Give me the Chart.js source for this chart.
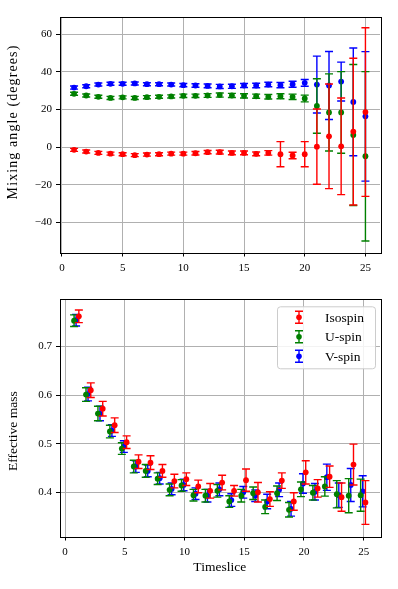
<!DOCTYPE html>
<html>
<head>
<meta charset="utf-8">
<script src="https://cdn.jsdelivr.net/npm/chart.js@4.4.0/dist/chart.umd.min.js"></script>
<style>
  body { margin: 0; background: #fff; }
  #wrap { position: relative; width: 398px; height: 589px; }
  #graficoAngulo { position: absolute; left: 0; top: 0; }
  #graficoMassa { position: absolute; left: 0; top: 280px; }
</style>
</head>
<body>
<div id="wrap">
  <canvas id="graficoAngulo" width="398" height="280"></canvas>
  <canvas id="graficoMassa" width="398" height="309"></canvas>
</div>
<script>
// DADOS
const timeslices = [1, 2, 3, 4, 5, 6, 7, 8, 9, 10, 11, 12, 13, 14, 15, 16, 17, 18, 19, 20, 21, 22, 23, 24, 25];

const anguloIsospin = [-1.4, -2.3, -3.0, -3.4, -3.7, -4.2, -3.9, -3.7, -3.4, -3.4, -3.2, -2.6, -2.6, -3.0, -3.0, -3.5, -3.0, -3.7, -4.4, -3.7, 0.3, 5.8, 0.5, 8.3, 18.7];
const erroAnguloIsospin = [0.8, 0.8, 0.8, 0.8, 0.8, 0.8, 0.8, 0.8, 0.8, 0.8, 0.9, 0.9, 1.0, 1.0, 1.0, 1.0, 1.2, 6.7, 1.7, 6.7, 20.0, 27.8, 25.7, 39.0, 44.8];
const anguloUspin = [28.4, 27.5, 26.8, 26.2, 26.5, 26.2, 26.6, 26.8, 27.0, 27.3, 27.3, 27.5, 27.7, 27.5, 27.3, 27.1, 26.8, 27.1, 26.8, 25.9, 21.9, 18.5, 18.5, 6.5, -4.8];
const erroAnguloUspin = [0.8, 0.8, 0.8, 0.8, 0.8, 0.8, 0.8, 0.8, 0.8, 0.9, 0.9, 1.0, 1.1, 1.1, 1.1, 1.1, 1.2, 1.3, 1.4, 1.8, 14.5, 20.5, 21.7, 37.5, 45.0];
const anguloVspin = [31.7, 32.4, 33.3, 33.7, 33.7, 33.9, 33.5, 33.5, 33.3, 33.0, 32.8, 32.6, 32.3, 32.4, 32.8, 32.8, 33.3, 33.0, 33.5, 34.2, 33.3, 32.8, 34.9, 24.1, 16.4];
const erroAnguloVspin = [0.8, 0.8, 0.8, 0.8, 0.8, 0.8, 0.8, 0.8, 0.8, 0.9, 0.9, 1.0, 1.1, 1.1, 1.1, 1.2, 1.2, 1.4, 1.6, 1.8, 15.1, 18.1, 10.3, 28.6, 34.4];

const massaIsospin = [0.762, 0.610, 0.572, 0.538, 0.503, 0.463, 0.461, 0.444, 0.423, 0.427, 0.412, 0.403, 0.420, 0.403, 0.425, 0.400, 0.386, 0.424, 0.381, 0.441, 0.408, 0.432, 0.390, 0.457, 0.379];
const erroMassaIsospin = [0.013, 0.015, 0.015, 0.015, 0.013, 0.014, 0.014, 0.013, 0.014, 0.013, 0.013, 0.015, 0.015, 0.011, 0.023, 0.020, 0.015, 0.016, 0.018, 0.024, 0.018, 0.022, 0.029, 0.042, 0.045];
const massaUspin = [0.753, 0.601, 0.562, 0.525, 0.490, 0.453, 0.444, 0.428, 0.405, 0.414, 0.394, 0.393, 0.403, 0.381, 0.393, 0.398, 0.370, 0.398, 0.364, 0.406, 0.399, 0.412, 0.396, 0.393, 0.394];
const erroMassaUspin = [0.012, 0.014, 0.015, 0.013, 0.012, 0.013, 0.013, 0.012, 0.012, 0.012, 0.012, 0.013, 0.013, 0.012, 0.013, 0.013, 0.014, 0.015, 0.015, 0.015, 0.015, 0.020, 0.028, 0.035, 0.033];
const massaVspin = [0.754, 0.602, 0.562, 0.527, 0.494, 0.453, 0.444, 0.429, 0.407, 0.415, 0.397, 0.393, 0.406, 0.384, 0.400, 0.393, 0.381, 0.405, 0.366, 0.418, 0.401, 0.431, 0.394, 0.415, 0.402];
const erroMassaVspin = [0.012, 0.014, 0.015, 0.012, 0.012, 0.012, 0.012, 0.012, 0.012, 0.012, 0.012, 0.013, 0.013, 0.013, 0.012, 0.012, 0.015, 0.014, 0.015, 0.020, 0.017, 0.027, 0.025, 0.034, 0.032];

// small x shift used in the lower panel so the three series don't overlap
const desvioIsospin = 0.15;
const desvioUspin = -0.25;
const desvioVspin = -0.08;

const ticksX = [0, 5, 10, 15, 20, 25];
const ticksAngulo = [-40, -20, 0, 20, 40, 60];
const ticksMassa = [0.4, 0.5, 0.6, 0.7];

const VERMELHO = '#ff0000';
const VERDE = '#008000';
const AZUL = '#0000ff';
const FONTE = "'Liberation Serif', 'DejaVu Serif', serif";

Chart.defaults.font.family = FONTE;
Chart.defaults.color = '#000';

// PLUGINS
const barrasDeErro = {
  id: 'barrasDeErro',
  beforeDatasetDraw(chart, args) {
    const ds = chart.data.datasets[args.index];
    const xs = chart.scales.x;
    const ys = chart.scales.y;
    const ctx = chart.ctx;
    ctx.save();
    ctx.strokeStyle = ds.backgroundColor;
    ctx.lineWidth = 1.4;
    ds.data.forEach((p, i) => {
      const e = ds.erros[i];
      const x = xs.getPixelForValue(p.x);
      const y1 = ys.getPixelForValue(p.y + e);
      const y2 = ys.getPixelForValue(p.y - e);
      ctx.beginPath();
      ctx.moveTo(x, y1); ctx.lineTo(x, y2);
      ctx.moveTo(x - 4, y1); ctx.lineTo(x + 4, y1);
      ctx.moveTo(x - 4, y2); ctx.lineTo(x + 4, y2);
      ctx.stroke();
    });
    ctx.restore();
  }
};

const moldura = {
  id: 'moldura',
  afterDatasetsDraw(chart) {
    const a = chart.chartArea;
    const ctx = chart.ctx;
    ctx.save();
    ctx.strokeStyle = '#000';
    ctx.lineWidth = 1;
    ctx.strokeRect(Math.round(a.left) + 0.5, Math.round(a.top) + 0.5, Math.round(a.right - a.left), Math.round(a.bottom - a.top));
    ctx.restore();
  }
};

const rotuloY = {
  id: 'rotuloY',
  afterDraw(chart, args, opts) {
    const a = chart.chartArea;
    const ctx = chart.ctx;
    ctx.save();
    ctx.translate(13, (a.top + a.bottom) / 2 + opts.desvio);
    ctx.rotate(-Math.PI / 2);
    ctx.font = opts.tamanho + 'px ' + FONTE;
    ctx.letterSpacing = opts.espaco + 'px';
    ctx.fillStyle = '#000';
    ctx.textAlign = 'center';
    ctx.textBaseline = 'middle';
    ctx.fillText(opts.texto, 0, 0);
    ctx.restore();
  }
};

const legenda = {
  id: 'legenda',
  afterDraw(chart, args, opts) {
    if (!opts.mostrar) return;
    const a = chart.chartArea;
    const ctx = chart.ctx;
    const dir = a.right - 5;
    const esq = dir - 98;
    const topo = a.top + 7;
    const alt = 62;
    ctx.save();
    ctx.fillStyle = 'rgba(255,255,255,0.85)';
    ctx.strokeStyle = '#cccccc';
    ctx.lineWidth = 1;
    ctx.beginPath();
    ctx.roundRect(esq + 0.5, topo + 0.5, dir - esq, alt, 3);
    ctx.fill();
    ctx.stroke();
    ctx.font = '13.5px ' + FONTE;
    ctx.textBaseline = 'middle';
    ctx.textAlign = 'left';
    chart.data.datasets.forEach((ds, i) => {
      const y = topo + 11 + i * 19.5;
      const x = esq + 22;
      ctx.strokeStyle = ds.backgroundColor;
      ctx.fillStyle = ds.backgroundColor;
      ctx.lineWidth = 1.4;
      ctx.beginPath();
      ctx.moveTo(x, y - 6); ctx.lineTo(x, y + 6);
      ctx.moveTo(x - 4, y - 6); ctx.lineTo(x + 4, y - 6);
      ctx.moveTo(x - 4, y + 6); ctx.lineTo(x + 4, y + 6);
      ctx.stroke();
      ctx.beginPath();
      ctx.arc(x, y, 2.8, 0, Math.PI * 2);
      ctx.fill();
      ctx.fillStyle = '#000';
      ctx.fillText(ds.label, esq + 48, y + 1);
    });
    ctx.restore();
  }
};

function serie(label, cor, valores, erros, desvio) {
  return {
    label: label,
    data: timeslices.map((t, i) => ({ x: t + desvio, y: valores[i] })),
    erros: erros,
    backgroundColor: cor,
    pointBackgroundColor: cor,
    pointBorderWidth: 0,
    pointRadius: 2.9,
    showLine: false
  };
}

function grade() {
  return { color: '#b0b0b0', lineWidth: 1, tickColor: '#000', tickLength: 3.5, drawTicks: true };
}

// GRAFICO ANGULO
const graficoAngulo = document.getElementById('graficoAngulo');
new Chart(graficoAngulo, {
  type: 'scatter',
  data: {
    datasets: [
      serie('Isospin', VERMELHO, anguloIsospin, erroAnguloIsospin, 0),
      serie('U-spin', VERDE, anguloUspin, erroAnguloUspin, 0),
      serie('V-spin', AZUL, anguloVspin, erroAnguloVspin, 0)
    ]
  },
  options: {
    responsive: false,
    animation: false,
    layout: { padding: { left: 0, right: 18, top: 17, bottom: 0 } },
    plugins: {
      legend: { display: false },
      tooltip: { enabled: false },
      rotuloY: { texto: 'Mixing angle (degrees)', desvio: -13, tamanho: 14, espaco: 1.1 },
      legenda: { mostrar: false }
    },
    scales: {
      x: {
        type: 'linear', min: -0.2, max: 26.2,
        grid: grade(), border: { display: false },
        afterBuildTicks: s => { s.ticks = ticksX.map(v => ({ value: v })); },
        afterFit: s => { s.height = 27; },
        ticks: { font: { size: 11 }, padding: 5, maxRotation: 0, callback: v => String(v) }
      },
      y: {
        type: 'linear', min: -56.2, max: 69.2,
        grid: grade(), border: { display: false },
        afterBuildTicks: s => { s.ticks = ticksAngulo.map(v => ({ value: v })); },
        afterFit: s => { s.width = 59.5; },
        ticks: { font: { size: 11 }, padding: 4, callback: v => String(v).replace('-', '\u2212') }
      }
    }
  },
  plugins: [barrasDeErro, moldura, rotuloY, legenda]
});

// GRAFICO MASSA EFETIVA
const graficoMassa = document.getElementById('graficoMassa');
new Chart(graficoMassa, {
  type: 'scatter',
  data: {
    datasets: [
      serie('Isospin', VERMELHO, massaIsospin, erroMassaIsospin, desvioIsospin),
      serie('U-spin', VERDE, massaUspin, erroMassaUspin, desvioUspin),
      serie('V-spin', AZUL, massaVspin, erroMassaVspin, desvioVspin)
    ]
  },
  options: {
    responsive: false,
    animation: false,
    layout: { padding: { left: 0, right: 18, top: 19.3, bottom: 0 } },
    plugins: {
      legend: { display: false },
      tooltip: { enabled: false },
      rotuloY: { texto: 'Effective mass', desvio: 13, tamanho: 13.5, espaco: 0 },
      legenda: { mostrar: true }
    },
    scales: {
      x: {
        type: 'linear', min: -0.47, max: 26.37,
        grid: grade(), border: { display: false },
        afterBuildTicks: s => { s.ticks = ticksX.map(v => ({ value: v })); },
        afterFit: s => { s.height = 52; },
        title: { display: true, text: 'Timeslice', font: { size: 13.5 }, padding: { top: 0, bottom: 13 } },
        ticks: { font: { size: 11 }, padding: 5, maxRotation: 0, callback: v => String(v) }
      },
      y: {
        type: 'linear', min: 0.308, max: 0.797,
        grid: grade(), border: { display: false },
        afterBuildTicks: s => { s.ticks = ticksMassa.map(v => ({ value: v })); },
        afterFit: s => { s.width = 59.5; },
        ticks: { font: { size: 11 }, padding: 4, callback: v => v.toFixed(1) }
      }
    }
  },
  plugins: [barrasDeErro, moldura, rotuloY, legenda]
});
</script>
</body>
</html>
